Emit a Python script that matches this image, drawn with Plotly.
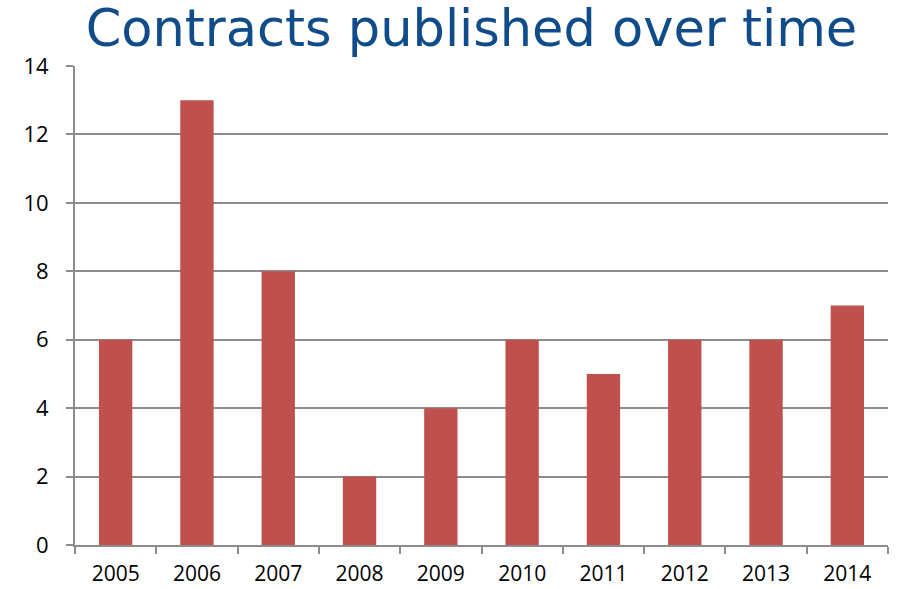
import plotly.graph_objects as go

# Contracts published per year
years = ["2005", "2006", "2007", "2008", "2009", "2010", "2011", "2012", "2013", "2014"]
contracts = [6, 13, 8, 2, 4, 6, 5, 6, 6, 7]

y_ticks = [0, 2, 4, 6, 8, 10, 12, 14]

fig = go.Figure(
    go.Bar(
        x=years,
        y=contracts,
        marker=dict(color="#C0504D", line=dict(width=0)),
        width=0.41,
    )
)

grid_color = "#8C8C8C"
tick_font = dict(family="Open Sans", size=22, color="#000000")
x_tick_font = dict(family="Open Sans", size=21, color="#000000")

fig.update_layout(
    width=898,
    height=589,
    margin=dict(l=75, r=10, t=66, b=44, autoexpand=False),
    paper_bgcolor="white",
    plot_bgcolor="white",
    showlegend=False,
    title=dict(
        text="Contracts published over time",
        font=dict(family="DejaVu Sans", size=51, color="#0F4C89"),
        x=0.525,
        xanchor="center",
        y=0.953,
        yanchor="middle",
        automargin=False,
    ),
    font=tick_font,
)

fig.update_xaxes(
    type="category",
    tickson="boundaries",
    ticks="outside",
    ticklen=7,
    tickwidth=1.5,
    tickcolor=grid_color,
    showline=True,
    linecolor=grid_color,
    linewidth=2,
    showgrid=False,
    automargin=False,
    ticklabelstandoff=9,
    tickfont=x_tick_font,
)

fig.update_yaxes(
    range=[0, 14],
    tickvals=y_ticks,
    ticks="outside",
    ticklen=7,
    tickwidth=1.5,
    tickcolor=grid_color,
    showline=True,
    linecolor=grid_color,
    linewidth=2,
    showgrid=True,
    gridcolor=grid_color,
    gridwidth=1.5,
    zeroline=False,
    automargin=False,
    ticklabelstandoff=13,
    tickfont=tick_font,
)

fig.write_html("out.html")
